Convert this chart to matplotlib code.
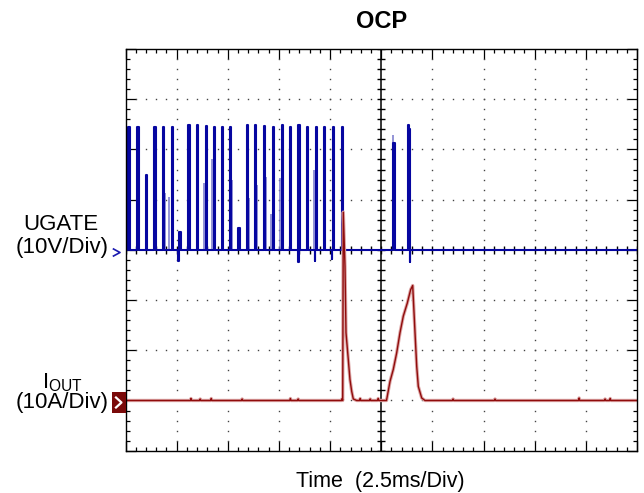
import matplotlib.pyplot as plt
import numpy as np
from matplotlib.lines import Line2D
from matplotlib.patches import Rectangle

plt.rcParams['font.family'] = ['Liberation Sans', 'DejaVu Sans']
plt.rcParams['mathtext.fontset'] = 'custom'
plt.rcParams['mathtext.rm'] = 'Liberation Sans'

# scope settings
ms_per_div = 2.5
v_per_div = 10.0
a_per_div = 10.0
ugate_offset = 4.0   # divisions from bottom
iout_offset = 1.0

# UGATE main pulses (time ms, height V)
ugate_t = [0.137, 0.577, 1.002, 1.408, 1.818, 2.258, 2.630, 3.069, 3.480, 3.935,
           4.326, 4.702, 5.108, 5.513, 5.924, 6.329, 6.769, 7.194, 7.634, 8.040,
           8.446, 8.856, 9.311, 9.702, 10.127, 10.567, 13.09, 13.80, 13.86]
ugate_v = [24.4, 24.5, 14.9, 24.4, 24.5, 24.4, 3.6, 24.9, 24.9, 24.6,
           24.5, 24.5, 24.5, 4.3, 24.9, 24.9, 24.6, 24.4, 24.9, 24.5,
           24.9, 24.5, 24.5, 24.5, 24.5, 24.5, 21.2, 24.9, 24.0]
pulse_w = 0.06

# negative glitches on UGATE (time ms, V)
dip_t = [2.58, 8.45, 9.26, 10.08, 13.89]
dip_v = [-2.3, -2.5, -2.3, -1.8, -2.4]

# fainter persistence traces of UGATE (time ms, V)
ghost_t = [0.24, 1.95, 2.12, 3.17, 3.83, 4.21, 5.21, 6.02, 6.43, 6.87,
           7.10, 7.56, 8.55, 9.21, 10.21, 13.06]
ghost_v = [20.2, 11.3, 10.6, 19.2, 13.3, 18.0, 14.0, 10.3, 13.0, 14.5,
           7.1, 14.3, 19.7, 16.0, 14.3, 22.9]

# IOUT trace (time ms, A)
iout_t = [0.0, 3.18, 3.20, 3.23, 3.62, 3.65, 3.68, 4.16, 4.19, 4.22, 5.67, 5.70, 5.73,
          8.03, 8.06, 8.09, 8.41, 8.44, 8.47, 10.56, 10.59, 10.616, 10.645, 10.728,
          10.777, 10.89, 10.97, 11.056, 11.134, 11.30, 11.44, 11.47, 11.50, 11.93,
          11.96, 11.99, 12.32, 12.35, 12.38, 12.757, 12.766, 12.928, 13.089, 13.255,
          13.416, 13.578, 13.773, 13.939, 14.037, 14.15, 14.233, 14.311, 14.477,
          14.638, 15.98, 16.01, 16.04, 18.03, 18.06, 18.09, 22.14, 22.17, 22.20,
          23.41, 23.44, 23.47, 23.66, 23.69, 23.72, 25.0]
iout_a = [0.0, 0.0, 0.4, 0.0, 0.0, 0.3, 0.0, 0.0, 0.4, 0.0, 0.0, 0.3, 0.0,
          0.0, 0.4, 0.0, 0.0, 0.3, 0.0, 0.0, 0.4, 0.0, 37.5, 26.7,
          13.5, 8.1, 4.2, 1.8, 0.3, 0.0, 0.0, 0.4, 0.0, 0.0,
          0.3, 0.0, 0.0, 0.4, 0.0, 0.0, 0.2, 3.8, 6.2, 9.5,
          13.5, 16.8, 19.4, 22.1, 22.9, 13.5, 6.8, 2.8, 0.5,
          0.0, 0.0, 0.3, 0.0, 0.0, 0.3, 0.0, 0.0, 0.5, 0.0,
          0.0, 0.3, 0.0, 0.0, 0.4, 0.0, 0.0]

W, H = 644, 493


def fx(px):
    return px / W


def fy(py):
    return 1 - py / H


# build the UGATE trace from pulse list
events = sorted([(t, v, pulse_w) for t, v in zip(ugate_t, ugate_v)] +
                [(t, v, 0.02) for t, v in zip(dip_t, dip_v)])
gx, gy = [0.0], [0.0]
for t, v, w in events:
    gx += [t, t, t + w, t + w]
    gy += [0.0, v, v, 0.0]
gx.append(25.0)
gy.append(0.0)
gx = np.array(gx)
gy = np.array(gy)

fig = plt.figure(figsize=(6.44, 4.93), dpi=100)
ax = fig.add_axes([fx(125.5), fy(450.7), fx(637) - fx(125.5), fy(49) - fy(450.7)])

t_max = 10 * ms_per_div
ax.set_xlim(0, t_max)
ax.set_ylim(0, 8)

# dotted graticule
major_x = np.arange(1, 10) * ms_per_div
major_y = np.arange(1, 8)
minor_x = np.arange(0, t_max + 0.01, ms_per_div / 5)
minor_y = np.arange(0, 8.01, 0.2)
for mx in major_x:
    if mx != 5 * ms_per_div:
        ax.plot(np.full_like(minor_y, mx), minor_y, ls='none', marker='s', ms=1.0,
                color='#444444', mew=0)
for my in major_y:
    if my != 4:
        ax.plot(minor_x, np.full_like(minor_x, my), ls='none', marker='s', ms=1.0,
                color='#444444', mew=0)

# centre cross with ticks
ax.axvline(5 * ms_per_div, color='black', lw=1.1)
ax.axhline(4, color='black', lw=1.1)
ax.plot(np.full_like(minor_y, 5 * ms_per_div), minor_y, ls='none', marker='_', ms=6,
        color='black', mew=1.0)
ax.plot(minor_x, np.full_like(minor_x, 4), ls='none', marker='|', ms=6,
        color='black', mew=1.0)

# traces
ax.vlines(ghost_t, ugate_offset, ugate_offset + np.array(ghost_v) / v_per_div,
          color='#7777cc', lw=1.1)
ax.plot(gx, ugate_offset + gy / v_per_div, color='#0606a0', lw=1.5)

it = np.array(iout_t)
ia = iout_offset + np.array(iout_a) / a_per_div
ax.plot(it, ia, color='#dca5a5', lw=2.4, solid_joinstyle='round')
ax.plot(it, ia, color='#900c0c', lw=1.0)

# border ticks
ax.set_xticks(np.arange(0, t_max + 0.01, ms_per_div))
ax.set_xticks(minor_x, minor=True)
ax.set_yticks(np.arange(0, 9, 1))
ax.set_yticks(minor_y, minor=True)
ax.tick_params(which='both', direction='in', top=True, right=True,
               labelbottom=False, labelleft=False, color='black', width=0.9)
ax.tick_params(which='major', length=7)
ax.tick_params(which='minor', length=3)
for s in ax.spines.values():
    s.set_linewidth(1.0)

# texts
fig.text(fx(381.5), fy(28.3), 'OCP', ha='center', va='baseline', fontsize=17,
         fontweight='bold')
fig.text(fx(380.7), fy(486.7), 'Time  (2.5ms/Div)', ha='center', va='baseline',
         fontsize=15.5)
fig.text(fx(61), fy(230), 'UGATE', ha='center', va='baseline', fontsize=16)
fig.text(fx(62), fy(253), '(10V/Div)', ha='center', va='baseline', fontsize=16)
fig.text(fx(62), fy(388), r'I$_{\mathrm{OUT}}$', ha='center', va='baseline', fontsize=16)
fig.text(fx(62), fy(408), '(10A/Div)', ha='center', va='baseline', fontsize=16)

# channel markers
fig.add_artist(Line2D([fx(113.5), fx(120), fx(113.5)], [fy(249), fy(252.5), fy(256)],
                      color='#1a1ab0', lw=1.2))
fig.add_artist(Rectangle((fx(111.5), fy(413)), fx(126) - fx(111.5), fy(392) - fy(413),
                         transform=fig.transFigure, color='#7a0a0a', lw=0))
fig.add_artist(Line2D([fx(116), fx(121.5), fx(116)], [fy(397.5), fy(402.5), fy(407.5)],
                      color='white', lw=1.6))

fig.savefig('out.png', dpi=100)
